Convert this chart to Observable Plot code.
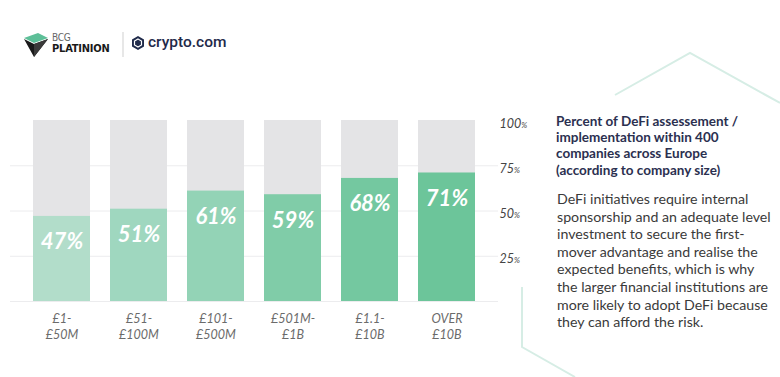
<!DOCTYPE html>
<html>
<head>
<meta charset="utf-8">
<script src="https://cdn.jsdelivr.net/npm/d3@7"></script>
<script src="https://cdn.jsdelivr.net/npm/@observablehq/plot@0.6"></script>
<style>
  html, body { margin: 0; padding: 0; background: #fff; }
  body { width: 780px; height: 377px; position: relative; overflow: hidden; font-family: Lato, "Open Sans", sans-serif; }
  #chart { position: absolute; left: 0; top: 0; }
  #deco { position: absolute; left: 0; top: 0; }
  .logo-bcg1 { position: absolute; left: 52px; top: 32px; font-family: "DejaVu Sans Condensed", "DejaVu Sans", sans-serif; font-size: 10px; color: #666; letter-spacing: -0.3px; }
  .logo-bcg2 { position: absolute; left: 52px; top: 42px; font-family: "DejaVu Sans Condensed", "DejaVu Sans", sans-serif; font-weight: bold; font-size: 11px; color: #1a1a1a; letter-spacing: -0.2px; }
  .logo-crypto { position: absolute; left: 148px; top: 33px; font-family: Roboto, sans-serif; font-weight: 500; font-size: 15.5px; color: #1f2a4a; }
  #title { position: absolute; left: 556px; top: 113px; white-space: nowrap; font-family: Lato, sans-serif; font-weight: 700; font-size: 13.5px; line-height: 16.2px; color: #2b3050; }
  #body { position: absolute; left: 557px; top: 190px; white-space: nowrap; font-family: Lato, sans-serif; font-size: 14.2px; line-height: 17.6px; color: #3a3a3a; }
</style>
</head>
<body>
<svg id="deco" width="780" height="377">
  <polyline points="615,95 690,53 780,103" fill="none" stroke="#d6ede5" stroke-width="2"/>
  <polyline points="522,287 522,347 575,377" fill="none" stroke="#d6ede5" stroke-width="2"/>
  <!-- BCG Platinion mark -->
  <polygon points="24,38 38,33 48,38 34,43" fill="#5dbf98"/>
  <polygon points="24,39 34,44 48,39 34,57" fill="#1a1a1a"/>
  <polygon points="34,44 48,39 34,57" fill="#3a3a3a"/>
  <line x1="123" y1="32" x2="123" y2="57" stroke="#cfcfcf" stroke-width="1"/>
  <!-- crypto.com mark -->
  <path d="M138,36 L144,39.5 L144,46.5 L138,50 L132,46.5 L132,39.5 Z" fill="#1f2a4a"/>
  <path d="M138,39 L141.5,41 L141.5,45 L138,47 L134.5,45 L134.5,41 Z" fill="none" stroke="#fff" stroke-width="1.2"/>
</svg>
<div class="logo-bcg1">BCG</div>
<div class="logo-bcg2">PLATINION</div>
<div class="logo-crypto">crypto.com</div>
<div id="chart"></div>
<div id="title">Percent of DeFi assessement /<br>implementation within 400<br>companies across Europe<br>(according to company size)</div>
<div id="body">DeFi initiatives require internal<br>sponsorship and an adequate level<br>investment to secure the first-<br>mover advantage and realise the<br>expected benefits, which is why<br>the larger financial institutions are<br>more likely to adopt DeFi because<br>they can afford the risk.</div>
<script>
const categories = ["£1-\n£50M", "£51-\n£100M", "£101-\n£500M", "£501M-\n£1B", "£1.1-\n£10B", "OVER\n£10B"];
const values = [47, 51, 61, 59, 68, 71];
const barColors = ["#b2ddca", "#9fd7bf", "#93d3b6", "#80cca8", "#74c8a0", "#6cc59a"];
const yTicks = [25, 50, 75, 100];
const gridLevels = [0, 25, 50, 75];

const data = categories.map((c, i) => ({size: c, value: values[i], color: barColors[i], full: 100}));

const plot = Plot.plot({
  width: 780,
  height: 377,
  marginTop: 120,
  marginBottom: 76,
  marginLeft: 10,
  marginRight: 282,
  style: {fontFamily: "Lato, sans-serif", background: "transparent", overflow: "visible"},
  x: {domain: categories, padding: 0.265, label: null},
  y: {domain: [0, 100], label: null},
  marks: [
    Plot.ruleY(gridLevels, {stroke: "#ececee", strokeWidth: 1}),
    Plot.barY(data, {x: "size", y: "full", fill: "#e4e4e6"}),
    Plot.barY(data, {x: "size", y: "value", fill: "color"}),
    Plot.text(data, {x: "size", y: "value", text: d => d.value + "%", dy: 26, fill: "white",
      fontSize: 22, fontWeight: 700, fontStyle: "italic", ariaLabel: "value-labels"}),
    Plot.axisY(yTicks, {anchor: "right", tickSize: 0, tickPadding: 1, tickFormat: d => d + "%",
      fontStyle: "italic", fill: "#444", fontSize: 12.5, dy: 3, textAnchor: "start", label: null}),
    Plot.axisX({tickSize: 0, tickPadding: 10, fontStyle: "italic", fill: "#6b6b6b", fontSize: 12.5, lineHeight: 1.28, label: null})
  ]
});
document.getElementById("chart").appendChild(plot);

// make the "%" sign smaller, as in the reference
function shrinkPercent(selector, size) {
  plot.querySelectorAll(selector).forEach(t => {
    const s = t.textContent;
    if (!s.endsWith("%")) return;
    t.textContent = s.slice(0, -1);
    const ts = document.createElementNS("http://www.w3.org/2000/svg", "tspan");
    ts.setAttribute("font-size", size);
    ts.textContent = "%";
    t.appendChild(ts);
  });
}
shrinkPercent('g[aria-label="value-labels"] text', "13px");
shrinkPercent('g[aria-label="y-axis tick label"] text', "8px");
</script>
</body>
</html>
